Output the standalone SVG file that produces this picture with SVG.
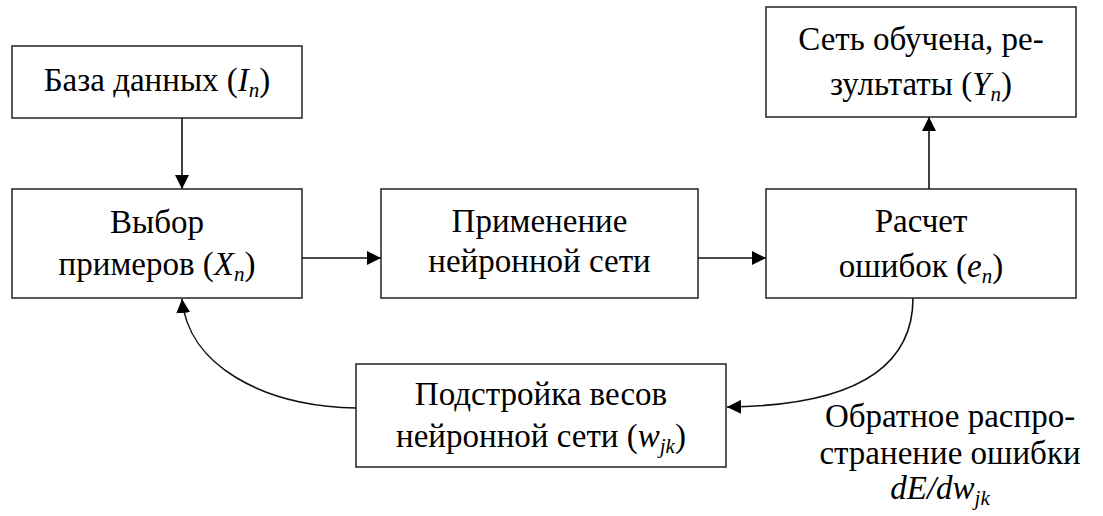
<svg xmlns="http://www.w3.org/2000/svg" width="1103" height="516" viewBox="0 0 1103 516">
<defs>
<marker id="ah" viewBox="0 0 10 10" refX="10" refY="5" markerWidth="14" markerHeight="14" markerUnits="userSpaceOnUse" orient="auto">
<path d="M0,0 L10,5 L0,10 z" fill="#000"/>
</marker>
</defs>
<rect width="1103" height="516" fill="#fff"/>
<g id="connectors" fill="none" stroke="#111" stroke-width="1.6">
<line x1="182" y1="118" x2="182" y2="189" marker-end="url(#ah)"/>
<line x1="302" y1="258" x2="381" y2="258" marker-end="url(#ah)"/>
<line x1="698" y1="258" x2="766" y2="258" marker-end="url(#ah)"/>
<line x1="929" y1="189" x2="929" y2="117" marker-end="url(#ah)"/>
<path d="M913,298 C913,375 840,406 727,407" marker-end="url(#ah)"/>
<path d="M356,408 C262,406 188,365 182,299" marker-end="url(#ah)"/>
</g>
<g id="baza">
<rect x="12" y="46" width="290" height="72" fill="#fff" stroke="#222" stroke-width="1.5"/>
<text font-family="Liberation Serif" font-size="33" text-anchor="middle" style="font-family:'Liberation Serif',serif !important" x="157" y="91">База данных (<tspan font-style="italic">I</tspan><tspan font-size="21" font-style="italic" dy="6">n</tspan><tspan dy="-6">)</tspan></text>
</g>
<g id="vybor">
<rect x="12" y="189" width="290" height="109" fill="#fff" stroke="#222" stroke-width="1.5"/>
<text font-family="Liberation Serif" font-size="33" text-anchor="middle" style="font-family:'Liberation Serif',serif !important" x="157" y="233">Выбор</text>
<text font-family="Liberation Serif" font-size="33" text-anchor="middle" style="font-family:'Liberation Serif',serif !important" x="157" y="275">примеров (<tspan font-style="italic">X</tspan><tspan font-size="21" font-style="italic" dy="6">n</tspan><tspan dy="-6">)</tspan></text>
</g>
<g id="primenenie">
<rect x="381" y="189" width="317" height="109" fill="#fff" stroke="#222" stroke-width="1.5"/>
<text font-family="Liberation Serif" font-size="33" text-anchor="middle" style="font-family:'Liberation Serif',serif !important" x="539.5" y="232">Применение</text>
<text font-family="Liberation Serif" font-size="33" text-anchor="middle" style="font-family:'Liberation Serif',serif !important" x="539.5" y="272">нейронной сети</text>
</g>
<g id="set">
<rect x="766" y="7" width="310" height="110" fill="#fff" stroke="#222" stroke-width="1.5"/>
<text font-family="Liberation Serif" font-size="33" text-anchor="middle" style="font-family:'Liberation Serif',serif !important" x="921" y="50">Сеть обучена, ре-</text>
<text font-family="Liberation Serif" font-size="33" text-anchor="middle" style="font-family:'Liberation Serif',serif !important" x="921" y="95">зультаты (<tspan font-style="italic">Y</tspan><tspan font-size="21" font-style="italic" dy="6">n</tspan><tspan dy="-6">)</tspan></text>
</g>
<g id="raschet">
<rect x="766" y="189" width="310" height="109" fill="#fff" stroke="#222" stroke-width="1.5"/>
<text font-family="Liberation Serif" font-size="33" text-anchor="middle" style="font-family:'Liberation Serif',serif !important" x="921" y="232">Расчет</text>
<text font-family="Liberation Serif" font-size="33" text-anchor="middle" style="font-family:'Liberation Serif',serif !important" x="921" y="277">ошибок (<tspan font-style="italic">e</tspan><tspan font-size="21" font-style="italic" dy="6">n</tspan><tspan dy="-6">)</tspan></text>
</g>
<g id="podstroyka">
<rect x="356" y="364" width="370" height="103" fill="#fff" stroke="#222" stroke-width="1.5"/>
<text font-family="Liberation Serif" font-size="33" text-anchor="middle" style="font-family:'Liberation Serif',serif !important" x="541" y="405">Подстройка весов</text>
<text font-family="Liberation Serif" font-size="33" text-anchor="middle" style="font-family:'Liberation Serif',serif !important" x="541" y="447">нейронной сети (<tspan font-style="italic">w</tspan><tspan font-size="21" font-style="italic" dy="6">jk</tspan><tspan dy="-6">)</tspan></text>
</g>
<g id="label">
<text font-family="Liberation Serif" font-size="33" text-anchor="middle" style="font-family:'Liberation Serif',serif !important" x="950" y="427">Обратное распро-</text>
<text font-family="Liberation Serif" font-size="33" text-anchor="middle" style="font-family:'Liberation Serif',serif !important" x="950" y="464">странение ошибки</text>
<text font-family="Liberation Serif" font-size="33" text-anchor="middle" font-style="italic" style="font-family:'Liberation Serif',serif !important" x="940" y="499">dE/dw<tspan font-size="21" dy="6">jk</tspan></text>
</g>
</svg>
